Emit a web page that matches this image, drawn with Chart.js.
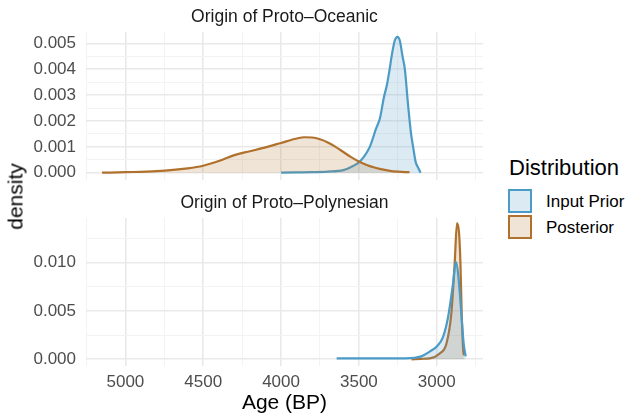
<!DOCTYPE html>
<html>
<head>
<meta charset="utf-8">
<script src="https://cdn.jsdelivr.net/npm/chart.js@4/dist/chart.umd.min.js"></script>
<style>
  body { margin: 0; background: #fff; }
  #wrap { position: relative; width: 629px; height: 415px; font-family: "Liberation Sans", Arial, sans-serif; }
  canvas { position: absolute; }
  .txt { position: absolute; white-space: nowrap; line-height: 1; }
  .strip { font-size: 17.5px; color: #1a1a1a; width: 397px; left: 86px; text-align: center; }
  .key { position: absolute; left: 508px; width: 20px; height: 20px; border: 2px solid; }
</style>
</head>
<body>
<div id="wrap">
  <canvas id="top" style="left:0;top:8px" width="483" height="196"></canvas>
  <canvas id="bottom" style="left:0;top:194px" width="483" height="221"></canvas>
  <div class="txt strip" style="top:8px">Origin of Proto–Oceanic</div>
  <div class="txt strip" style="top:194px">Origin of Proto–Polynesian</div>
  <div class="txt" style="font-size:21px;color:#000;left:-22px;top:186px;transform:rotate(-90deg);width:74px;text-align:center">density</div>
  <div class="txt" style="font-size:21px;color:#000;left:86px;width:397px;text-align:center;top:391px">Age (BP)</div>
  <div class="txt" style="font-size:22px;color:#000;left:509px;top:157px">Distribution</div>
  <div class="key" style="top:189px;border-color:#4b9bc6;background:rgba(80,150,200,0.2)"></div>
  <div class="key" style="top:215px;border-color:#b0712c;background:rgba(180,120,55,0.2)"></div>
  <div class="txt" style="font-size:17px;color:#000;left:546px;top:193px">Input Prior</div>
  <div class="txt" style="font-size:17px;color:#000;left:546px;top:219px">Posterior</div>
</div>
<script>
// x = age in years BP, y = density
const oceanicPriorAge = [4000, 3900, 3800, 3700, 3600, 3550, 3500, 3470, 3430, 3390, 3365, 3340, 3320, 3300, 3290, 3270, 3252, 3237, 3220, 3205, 3184, 3165, 3152, 3135, 3120, 3104];
const oceanicPriorDens = [0, 0.00001, 0.00002, 0.00004, 0.0001, 0.00022, 0.0004, 0.0006, 0.001, 0.0017, 0.0021, 0.0029, 0.0034, 0.0041, 0.0045, 0.0051, 0.00525, 0.0051, 0.0045, 0.004, 0.0026, 0.0015, 0.001, 0.0004, 0.0002, 0];

const oceanicPostAge = [5150, 5000, 4800, 4600, 4500, 4400, 4300, 4200, 4100, 4000, 3900, 3850, 3800, 3750, 3700, 3650, 3600, 3550, 3500, 3450, 3400, 3350, 3300, 3250, 3175];
const oceanicPostDens = [0, 0.00002, 0.00006, 0.00017, 0.00027, 0.00045, 0.00068, 0.00083, 0.00098, 0.00115, 0.00132, 0.00137, 0.00136, 0.00129, 0.00117, 0.001, 0.0008, 0.0006, 0.00043, 0.0003, 0.0002, 0.00013, 0.00007, 0.00004, 0.00002];

const polyPriorAge = [3643, 3400, 3200, 3100, 3045, 3002, 2960, 2927, 2895, 2878, 2863, 2842, 2827, 2814];
const polyPriorDens = [0.0001, 0.0001, 0.0001, 0.0003, 0.0008, 0.0013, 0.0023, 0.0044, 0.0079, 0.0101, 0.0089, 0.0047, 0.0016, 0.0003];

const polyPostAge = [3162, 3100, 3045, 2981, 2938, 2906, 2885, 2870, 2857, 2848, 2840, 2831, 2826];
const polyPostDens = [0, 0.00005, 0.0001, 0.0006, 0.0016, 0.0048, 0.0099, 0.0141, 0.0131, 0.01, 0.0048, 0.0011, 0.0004];

const xTicks = [5250, 5000, 4750, 4500, 4250, 4000, 3750, 3500, 3250, 3000, 2750];
const topYTicks = [0, 0.0005, 0.001, 0.0015, 0.002, 0.0025, 0.003, 0.0035, 0.004, 0.0045, 0.005];
const bottomYTicks = [0, 0.0025, 0.005, 0.0075, 0.01, 0.0125];

const blueLine = "#4b9bc6", blueFill = "rgba(80,150,200,0.2)";
const brownLine = "#b0712c", brownFill = "rgba(180,120,55,0.2)";

function pts(xs, ys) {
  return xs.map((x, i) => ({ x: x, y: ys[i] }));
}

function ds(xs, ys, line, fill) {
  return {
    data: pts(xs, ys),
    borderColor: line,
    backgroundColor: fill,
    borderWidth: 2.2,
    fill: "origin",
    pointRadius: 0,
    cubicInterpolationMode: "monotone",
  };
}

const gridColor = (major) => (ctx) => major(ctx.tick.value) ? "#e9e9e9" : "#f3f3f3";
const gridWidth = (major) => (ctx) => major(ctx.tick.value) ? 1.6 : 1;
const isMajorX = (v) => Math.round(v) % 500 === 0;

function makePanel(id, sets, yTicks, yMin, yMax, yStep, showX) {
  const isMajorY = (v) => Math.abs(v / yStep - Math.round(v / yStep)) < 1e-6;
  return new Chart(document.getElementById(id), {
    type: "line",
    data: { datasets: sets },
    options: {
      responsive: false,
      animation: false,
      layout: { padding: { top: 24, bottom: showX ? 0 : 24, left: 0, right: 0 } },
      plugins: { legend: { display: false }, tooltip: { enabled: false } },
      scales: {
        x: {
          type: "linear",
          reverse: true,
          min: 2703,
          max: 5253,
          afterBuildTicks: (s) => { s.ticks = xTicks.map((v) => ({ value: v })); },
          afterFit: (s) => { s.height = showX ? 49 : 0; },
          border: { display: false },
          grid: { color: gridColor(isMajorX), lineWidth: gridWidth(isMajorX), drawTicks: false },
          ticks: {
            display: showX,
            padding: 6,
            color: "#4d4d4d",
            font: { family: "Liberation Sans", size: 17 },
            maxRotation: 0,
            autoSkip: false,
            callback: (v) => isMajorX(v) ? String(v) : "",
          },
        },
        y: {
          min: yMin,
          max: yMax,
          afterBuildTicks: (s) => { s.ticks = yTicks.map((v) => ({ value: v })); },
          afterFit: (s) => { s.width = 86; },
          border: { display: false },
          grid: { color: gridColor(isMajorY), lineWidth: gridWidth(isMajorY), drawTicks: false },
          ticks: {
            padding: 10,
            color: "#4d4d4d",
            font: { family: "Liberation Sans", size: 17 },
            autoSkip: false,
            callback: (v) => isMajorY(v) ? v.toFixed(3) : "",
          },
        },
      },
    },
  });
}

makePanel("top", [
  ds(oceanicPostAge, oceanicPostDens, brownLine, brownFill),
  ds(oceanicPriorAge, oceanicPriorDens, blueLine, blueFill),
], topYTicks, -0.000282, 0.005437, 0.001, false);

makePanel("bottom", [
  ds(polyPriorAge, polyPriorDens, blueLine, blueFill),
  ds(polyPostAge, polyPostDens, brownLine, brownFill),
], bottomYTicks, -0.000694, 0.014627, 0.005, true);
</script>
</body>
</html>
